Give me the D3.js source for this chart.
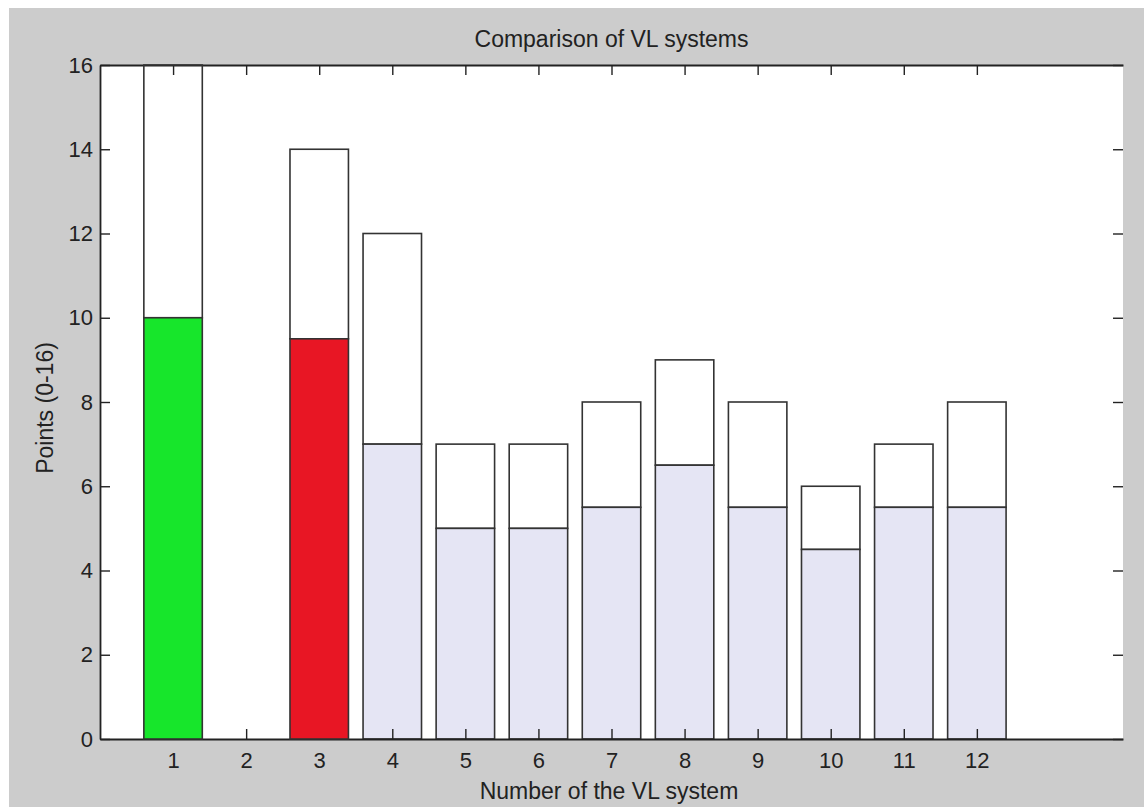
<!DOCTYPE html>
<html>
<head>
<meta charset="utf-8">
<script src="https://cdn.jsdelivr.net/npm/d3@7"></script>
<style>
  html, body { margin: 0; padding: 0; background: #ffffff; }
  svg { display: block; }
</style>
</head>
<body>
<svg id="chart" width="1144" height="807"></svg>
<script>
// ---- data ----
const categories = [1, 2, 3, 4, 5, 6, 7, 8, 9, 10, 11, 12];
const lowerValues = [10, 0, 9.5, 7, 5, 5, 5.5, 6.5, 5.5, 4.5, 5.5, 5.5];
const totalValues = [16, 0, 14, 12, 7, 7, 8, 9, 8, 6, 7, 8];
const highlight = {1: "#17e62b", 3: "#e81624"};
const yTicks = [0, 2, 4, 6, 8, 10, 12, 14, 16];
const xTicks = categories;
const titleText = "Comparison of VL systems";
const xLabelText = "Number of the VL system";
const yLabelText = "Points (0-16)";

// ---- layout ----
const W = 1144, H = 807;
const L = 100, R = 1123, T = 65, B = 739;
const font = "'Liberation Sans', Arial, sans-serif";
const svg = d3.select("#chart");

svg.append("rect").attr("x", 9).attr("y", 8).attr("width", W - 9).attr("height", H - 8)
  .attr("fill", "#cccccc");
svg.append("rect").attr("x", L).attr("y", T).attr("width", R - L).attr("height", B - T)
  .attr("fill", "#ffffff");

const x = d3.scaleLinear().domain([0, 14]).range([L, R]);
const y = d3.scaleLinear().domain([0, 16]).range([B, T]);
const bw = x(0.8) - x(0);

const data = categories.map((c, i) => ({c, lo: lowerValues[i], tot: totalValues[i]}));
const barStroke = "#333333";

function drawBars(g, rows) {
  // upper part (no fill)
  g.selectAll(".up").data(rows.filter(d => d.tot > 0)).join("rect")
    .attr("x", d => x(d.c) - bw / 2)
    .attr("y", d => y(d.tot))
    .attr("width", bw)
    .attr("height", d => y(d.lo) - y(d.tot))
    .attr("fill", "none").attr("stroke", barStroke).attr("stroke-width", 1.6);
  // lower part
  g.selectAll(".lo").data(rows.filter(d => d.lo > 0)).join("rect")
    .attr("x", d => x(d.c) - bw / 2)
    .attr("y", d => y(d.lo))
    .attr("width", bw)
    .attr("height", d => y(0) - y(d.lo))
    .attr("fill", d => highlight[d.c] || "#e5e5f4")
    .attr("stroke", barStroke).attr("stroke-width", 1.6);
}

const normal = data.filter(d => !highlight[d.c]);
const special = data.filter(d => highlight[d.c]);

drawBars(svg.append("g"), normal);

// ---- axes ----
function styleAxis(g, domainOn) {
  g.selectAll(".tick line").attr("stroke", "#222").attr("stroke-width", 1.4);
  if (domainOn) g.select(".domain").attr("stroke", "#222").attr("stroke-width", 1.8);
  else g.select(".domain").remove();
  g.selectAll("text").attr("fill", "#222").style("font-family", font).style("font-size", "22px");
}

const gx = svg.append("g").attr("transform", `translate(0,${B})`)
  .call(d3.axisBottom(x).tickValues(xTicks).tickSizeInner(-10).tickSizeOuter(0).tickPadding(13).tickFormat(d3.format("d")));
styleAxis(gx, true);

const gxt = svg.append("g").attr("transform", `translate(0,${T})`)
  .call(d3.axisTop(x).tickValues(xTicks).tickSizeInner(-10).tickSizeOuter(0).tickFormat(""));
styleAxis(gxt, true);

const gy = svg.append("g").attr("transform", `translate(${L},0)`)
  .call(d3.axisLeft(y).tickValues(yTicks).tickSizeInner(-10).tickSizeOuter(0).tickPadding(7).tickFormat(d3.format("d")));
styleAxis(gy, true);

const gyr = svg.append("g").attr("transform", `translate(${R},0)`)
  .call(d3.axisRight(y).tickValues(yTicks).tickSizeInner(-10).tickSizeOuter(0).tickFormat(""));
styleAxis(gyr, false);

drawBars(svg.append("g"), special);

// ---- texts ----
svg.append("text").attr("x", (L + R) / 2).attr("y", 47)
  .attr("text-anchor", "middle").style("font-family", font).style("font-size", "23px")
  .attr("fill", "#222").text(titleText);

svg.append("text").attr("x", 609).attr("y", 799)
  .attr("text-anchor", "middle").style("font-family", font).style("font-size", "23px")
  .attr("fill", "#222").text(xLabelText);

svg.append("text").attr("transform", `translate(53,${(T + B) / 2 + 6}) rotate(-90)`)
  .attr("text-anchor", "middle").style("font-family", font).style("font-size", "23px")
  .attr("fill", "#222").text(yLabelText);
</script>
</body>
</html>
